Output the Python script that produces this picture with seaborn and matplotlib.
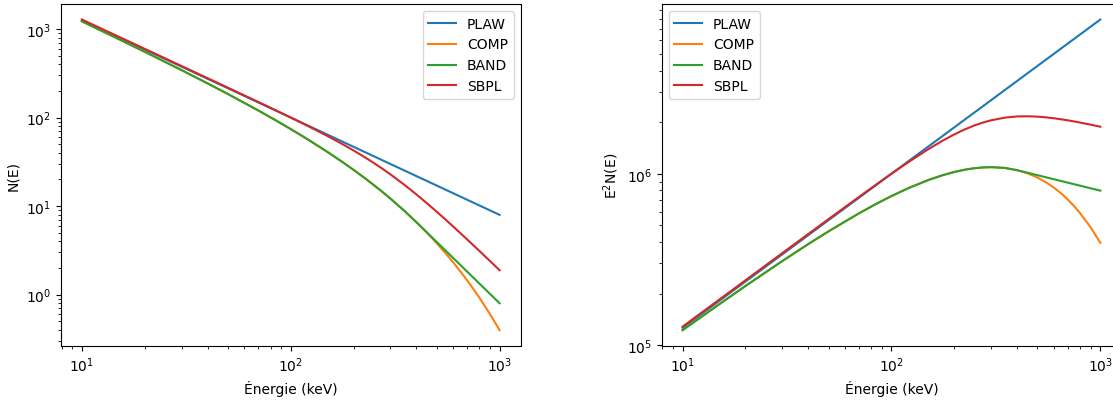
import numpy as np
import pandas as pd
import seaborn as sns
import matplotlib
matplotlib.use("Agg")
import matplotlib.pyplot as plt

energy = [10, 15, 20, 30, 40, 50, 70, 85, 100, 120, 150, 175, 200, 225, 250,
          275, 300, 350, 400, 450, 500, 550, 600, 650, 700, 750, 800, 900, 1000]

# photon spectrum N(E) for each model
n_plaw = [1259, 805.8, 587.3, 376.0, 274.0, 214.4, 148.0, 119.6, 100.0, 81.83,
          64.02, 54.03, 46.65, 40.99, 36.50, 32.86, 29.87, 25.21, 21.76, 19.12,
          17.03, 15.33, 13.93, 12.76, 11.76, 10.90, 10.15, 8.919, 7.943]
n_comp = [1222, 770.3, 553.1, 343.6, 243.0, 184.5, 120.0, 92.66, 74.08, 57.09,
          40.82, 31.96, 25.60, 20.87, 17.24, 14.40, 12.14, 8.822, 6.554, 4.957,
          3.800, 2.944, 2.303, 1.815, 1.440, 1.149, 0.9208, 0.5994, 0.3955]
n_band = [1222, 770.3, 553.1, 343.6, 243.0, 184.5, 120.0, 92.66, 74.08, 57.09,
          40.82, 31.96, 25.60, 20.87, 17.24, 14.40, 12.14, 8.822, 6.554, 4.999,
          3.923, 3.151, 2.579, 2.146, 1.809, 1.544, 1.331, 1.015, 0.7968]
n_sbpl = [1281, 819.7, 597.2, 382.2, 278.3, 217.5, 149.6, 120.3, 100.0, 80.89,
          61.80, 50.78, 42.43, 35.89, 30.64, 26.34, 22.79, 17.36, 13.50, 10.69,
          8.616, 7.053, 5.854, 4.919, 4.181, 3.589, 3.109, 2.386, 1.881]

models = ["PLAW", "COMP", "BAND", "SBPL"]
series = [n_plaw, n_comp, n_band, n_sbpl]

frames = []
for name, vals in zip(models, series):
    d = pd.DataFrame({"E": energy, "N": vals, "model": name})
    frames.append(d)
df = pd.concat(frames, ignore_index=True)
df["E2N"] = df["E"] ** 2 * df["N"]

fig = plt.figure(figsize=(11.13, 4.02), dpi=100)
W, H = 1113, 402
ax1 = fig.add_axes([61 / W, 55.3 / H, 459.5 / W, 341.7 / H])
ax2 = fig.add_axes([661.7 / W, 55.3 / H, 459.5 / W, 341.7 / H])

palette = sns.color_palette("tab10", 4)

sns.lineplot(data=df, x="E", y="N", hue="model", hue_order=models,
             palette=palette, ax=ax1, sort=False)
ax1.set_xscale("log")
ax1.set_yscale("log")
ax1.set_xlabel("Énergie (keV)")
ax1.set_ylabel("N(E)")
ax1.legend(loc="upper right")

sns.lineplot(data=df, x="E", y="E2N", hue="model", hue_order=models,
             palette=palette, ax=ax2, sort=False)
ax2.set_xscale("log")
ax2.set_yscale("log")
ax2.set_xlabel("Énergie (keV)")
ax2.set_ylabel(r"E$^2$N(E)")
ax2.legend(loc="upper left")

fig.savefig("out.png", dpi=100)
